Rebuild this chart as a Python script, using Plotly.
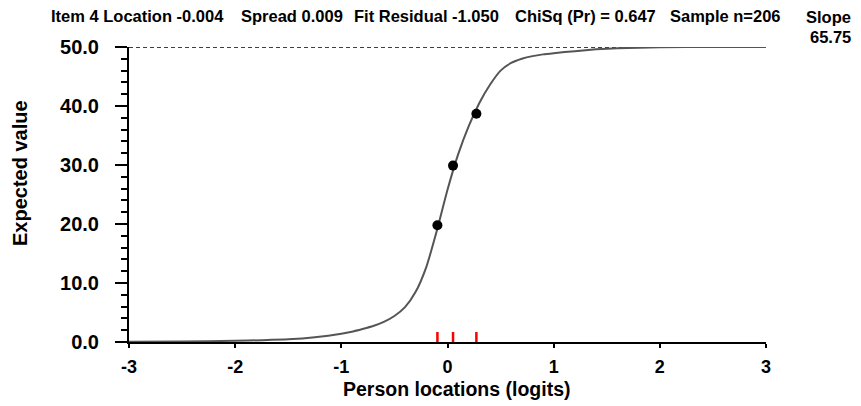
import plotly.graph_objects as go

# ---- data ----
curve_x = [-3.0, -2.5, -2.0, -1.75, -1.5, -1.25, -1.0, -0.9, -0.8, -0.7, -0.6, -0.5, -0.4,
           -0.3, -0.2, -0.1, 0.0, 0.1, 0.2, 0.3, 0.4, 0.5, 0.6, 0.7, 0.8, 0.9, 1.0,
           1.2, 1.4, 1.6, 2.0, 2.5, 3.0]
curve_y = [0.05, 0.1, 0.2, 0.3, 0.45, 0.8, 1.4, 1.75, 2.2, 2.7, 3.4, 4.4, 5.9,
           8.5, 12.7, 18.9, 25.8, 31.8, 36.6, 40.5, 43.6, 46.0, 47.3, 48.0, 48.45, 48.75, 48.95,
           49.3, 49.6, 49.8, 49.95, 50.0, 50.0]
obs_x = [-0.095, 0.052, 0.272]
obs_y = [19.8, 29.9, 38.7]
class_locs = [-0.095, 0.052, 0.272]
max_score = 50
x_ticks = [-3, -2, -1, 0, 1, 2, 3]
x_tick_labels = ["-3", "-2", "-1", "0", "1", "2", "3"]
y_ticks = [0, 10, 20, 30, 40, 50]
y_tick_labels = ["0.0", "10.0", "20.0", "30.0", "40.0", "50.0"]

header_parts = ["Item 4 Location -0.004", "Spread 0.009", "Fit Residual -1.050",
                "ChiSq (Pr) = 0.647", "Sample n=206"]
slope_label = "Slope"
slope_value = "65.75"
x_title = "Person locations (logits)"
y_title = "Expected value"

# ---- figure ----
FONT = "Liberation Sans, Arial, sans-serif"
W, H = 861, 406
L, R, T, B = 129, 95, 47, 64
pw, ph = W - L - R, H - T - B

def px_x(p):
    return (p - L) / pw

def px_y(p):
    return (H - B - p) / ph

fig = go.Figure()

fig.add_trace(go.Scatter(
    x=[x_ticks[0], x_ticks[-1]], y=[max_score, max_score], mode="lines",
    line=dict(color="black", width=1.5, dash="4px,3px"), hoverinfo="skip"))

fig.add_trace(go.Scatter(
    x=curve_x, y=curve_y, mode="lines",
    line=dict(color="#555555", width=2, shape="spline", smoothing=0.6),
    cliponaxis=False))

fig.add_trace(go.Scatter(
    x=obs_x, y=obs_y, mode="markers",
    marker=dict(color="black", size=10)))

for cx in class_locs:
    fig.add_shape(type="line", xref="x", yref="paper", x0=cx, x1=cx, y0=0.0, y1=0.034,
                  line=dict(color="red", width=2.5))

annos = []
header_lefts = [49, 239, 352, 513, 668]
for txt, lx in zip(header_parts, header_lefts):
    annos.append(dict(text=txt, xref="paper", yref="paper", x=px_x(lx), y=px_y(16),
                      xanchor="left", yanchor="middle", showarrow=False,
                      font=dict(family=FONT, size=16.5, color="black", weight="bold")))
annos.append(dict(text=slope_label, xref="paper", yref="paper", x=px_x(853), y=px_y(17),
                  xanchor="right", yanchor="middle", showarrow=False,
                  font=dict(family=FONT, size=16.5, color="black", weight="bold")))
annos.append(dict(text=slope_value, xref="paper", yref="paper", x=px_x(853), y=px_y(37),
                  xanchor="right", yanchor="middle", showarrow=False,
                  font=dict(family=FONT, size=16.5, color="black", weight="bold")))
annos.append(dict(text=x_title, xref="paper", yref="paper", x=px_x(457), y=px_y(389),
                  xanchor="center", yanchor="middle", showarrow=False,
                  font=dict(family=FONT, size=19.5, color="black", weight="bold")))
annos.append(dict(text=y_title, xref="paper", yref="paper", x=px_x(20), y=px_y(173),
                  xanchor="center", yanchor="middle", showarrow=False, textangle=-90,
                  font=dict(family=FONT, size=20, color="black", weight="bold")))

fig.update_layout(
    width=W, height=H,
    margin=dict(l=L, r=R, t=T, b=B, autoexpand=False),
    paper_bgcolor="white", plot_bgcolor="white",
    showlegend=False,
    annotations=annos,
    xaxis=dict(range=[x_ticks[0], x_ticks[-1]], tickvals=x_ticks, ticktext=x_tick_labels,
               showgrid=False, zeroline=False,
               showline=True, linecolor="black", linewidth=2,
               ticks="outside", ticklen=4, tickwidth=1.5, tickcolor="black",
               ticklabelstandoff=3,
               tickfont=dict(family=FONT, size=18, color="black", weight="bold")),
    yaxis=dict(range=[0, max_score], tickvals=y_ticks, ticktext=y_tick_labels,
               showgrid=False, zeroline=False,
               showline=True, linecolor="black", linewidth=2,
               ticks="outside", ticklen=12, tickwidth=1.5, tickcolor="black",
               minor=dict(dtick=2, ticks="outside", ticklen=6, tickwidth=1.5, tickcolor="black"),
               ticklabelstandoff=12,
               tickfont=dict(family=FONT, size=20, color="black", weight="bold")),
)

fig.write_html("out.html", config={"displayModeBar": False},
               post_script="document.body.style.margin='0';document.body.style.overflow='hidden';")
